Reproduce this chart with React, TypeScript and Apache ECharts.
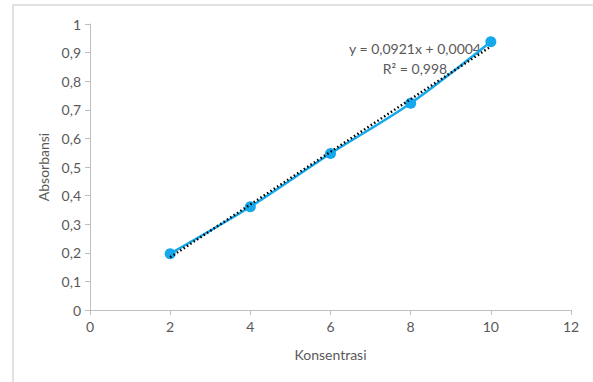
import React, { useEffect, useRef } from "react";
import * as echarts from "echarts";

const konsentrasi = [2, 4, 6, 8, 10];
const absorbansi = [0.197, 0.361, 0.547, 0.723, 0.938];
const slope = 0.0921;
const intercept = 0.0004;
const trendX = [2, 10];
const equationText = "y = 0,0921x + 0,0004";
const r2Text = "R² = 0,998";

export default function App() {
  const ref = useRef<HTMLDivElement>(null);
  useEffect(() => {
    if (!ref.current) return;
    const chart = echarts.init(ref.current, null, { renderer: "svg" });
    const font = "Lato, 'Open Sans', sans-serif";
    const grey = "#595959";
    chart.setOption({
      animation: false,
      backgroundColor: "#fff",
      textStyle: { fontFamily: font },
      grid: { left: 90, right: 22, top: 24, bottom: 72 },
      xAxis: {
        type: "value",
        min: 0,
        max: 12,
        interval: 2,
        name: "Konsentrasi",
        nameLocation: "middle",
        nameGap: 37,
        nameTextStyle: { color: grey, fontSize: 14, fontFamily: font },
        axisLine: { show: true, lineStyle: { color: "#bfbfbf", width: 1 } },
        axisTick: { show: true, length: 5, lineStyle: { color: "#bfbfbf" } },
        axisLabel: { color: grey, fontSize: 14, margin: 9, fontFamily: font },
        splitLine: { show: false },
      },
      yAxis: {
        type: "value",
        min: 0,
        max: 1,
        interval: 0.1,
        name: "Absorbansi",
        nameLocation: "middle",
        nameGap: 38,
        nameRotate: 90,
        nameTextStyle: { color: grey, fontSize: 14, fontFamily: font },
        axisLine: { show: true, lineStyle: { color: "#bfbfbf", width: 1 } },
        axisTick: { show: true, length: 5, lineStyle: { color: "#bfbfbf" } },
        axisLabel: {
          color: grey,
          fontSize: 14,
          margin: 9,
          fontFamily: font,
          formatter: (v: number) => String(Math.round(v * 10) / 10).replace(".", ","),
        },
        splitLine: { show: false },
      },
      series: [
        {
          type: "line",
          data: konsentrasi.map((x, i) => [x, absorbansi[i]]),
          smooth: 0.3,
          symbol: "circle",
          symbolSize: 11,
          itemStyle: { color: "#14a9ec" },
          lineStyle: { color: "#14a9ec", width: 2.5 },
          z: 2,
        },
        {
          type: "line",
          data: trendX.map((x) => [x, slope * x + intercept]),
          symbol: "none",
          lineStyle: { color: "#000", width: 2.5, type: [1.5, 2.5] },
          z: 3,
        },
      ],
      graphic: [
        {
          type: "rect",
          shape: { x: 13, y: 5, width: 600, height: 400 },
          style: { fill: "none", stroke: "#d9d9d9", lineWidth: 1.5 },
          silent: true,
        },
        {
          type: "text",
          x: 415,
          y: 48,
          style: {
            text: equationText,
            fill: grey,
            fontSize: 14,
            fontFamily: font,
            align: "center",
            verticalAlign: "middle",
          },
        },
        {
          type: "text",
          x: 415,
          y: 68,
          style: {
            text: r2Text,
            fill: grey,
            fontSize: 14,
            fontFamily: font,
            align: "center",
            verticalAlign: "middle",
          },
        },
      ],
    });
    return () => chart.dispose();
  }, []);
  return <div ref={ref} style={{ width: 593, height: 382, position: "absolute", left: 0, top: 0 }} />;
}
